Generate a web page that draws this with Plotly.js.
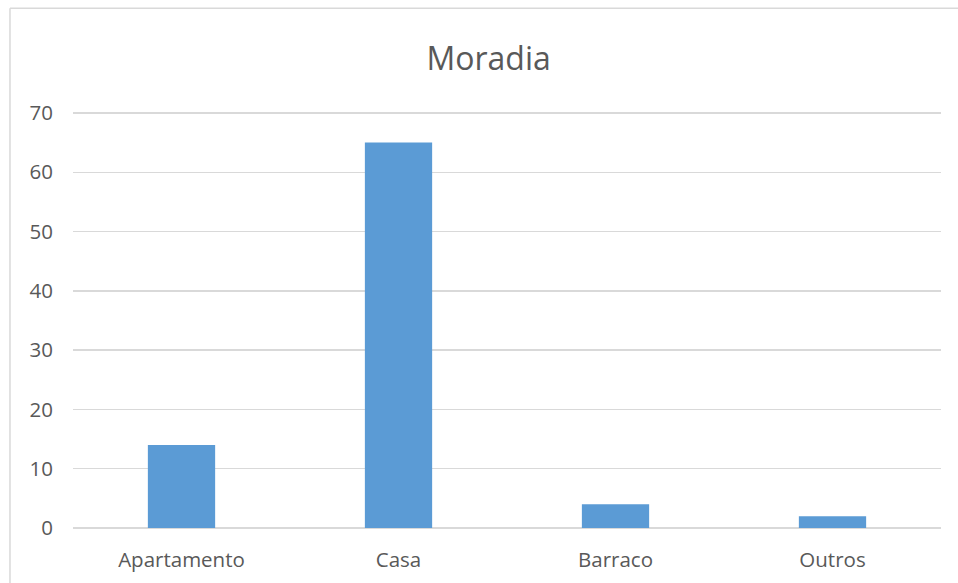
<!DOCTYPE html>
<html>
<head>
<meta charset="utf-8">
<script src="https://cdn.plot.ly/plotly-3.0.1.min.js"></script>
<style>
html,body{margin:0;padding:0;background:#fff;}
#chart{width:958px;height:583px;}
</style>
</head>
<body>
<div id="chart"></div>
<script>
var categories = ["Apartamento", "Casa", "Barraco", "Outros"];
var values = [14, 65, 4, 2];
var yTicks = [0, 10, 20, 30, 40, 50, 60, 70];

var trace = {
  type: "bar",
  x: categories,
  y: values,
  marker: {color: "#5b9bd5", line: {width: 0}},
  hoverinfo: "x+y"
};

var layout = {
  width: 958,
  height: 583,
  margin: {l: 73, r: 17, t: 110, b: 55},
  paper_bgcolor: "#ffffff",
  plot_bgcolor: "#ffffff",
  bargap: 0.69,
  showlegend: false,
  title: {
    text: "Moradia",
    font: {family: "Open Sans, Liberation Sans, sans-serif", size: 32, color: "#595959"},
    x: 0.51, xanchor: "center",
    y: 0.9, yanchor: "middle"
  },
  font: {family: "Open Sans, Liberation Sans, sans-serif", size: 20.5, color: "#595959"},
  xaxis: {
    type: "category",
    showgrid: false,
    zeroline: false,
    showline: false,
    ticks: "",
    tickfont: {size: 20.5, color: "#595959"},
    ticklabelstandoff: 17
  },
  yaxis: {
    range: [0, 70.5],
    tickvals: yTicks,
    ticktext: yTicks.map(String),
    showgrid: true,
    gridcolor: "#d9d9d9",
    gridwidth: 1.5,
    zeroline: true,
    zerolinecolor: "#d9d9d9",
    zerolinewidth: 1.5,
    showline: false,
    ticks: "",
    ticklabelstandoff: 19,
    tickfont: {size: 20.5, color: "#595959"}
  },
  shapes: [
    {type: "line", xref: "paper", yref: "paper", x0: -0.0726, x1: 1.05, y0: 1.2434, y1: 1.2434,
     line: {color: "#d9d9d9", width: 1.5}, layer: "below"},
    {type: "line", xref: "paper", yref: "paper", x0: -0.0726, x1: -0.0726, y0: -0.2, y1: 1.2434,
     line: {color: "#d9d9d9", width: 1.5}, layer: "below"}
  ]
};

Plotly.newPlot("chart", [trace], layout, {displayModeBar: false, staticPlot: true});
</script>
</body>
</html>
